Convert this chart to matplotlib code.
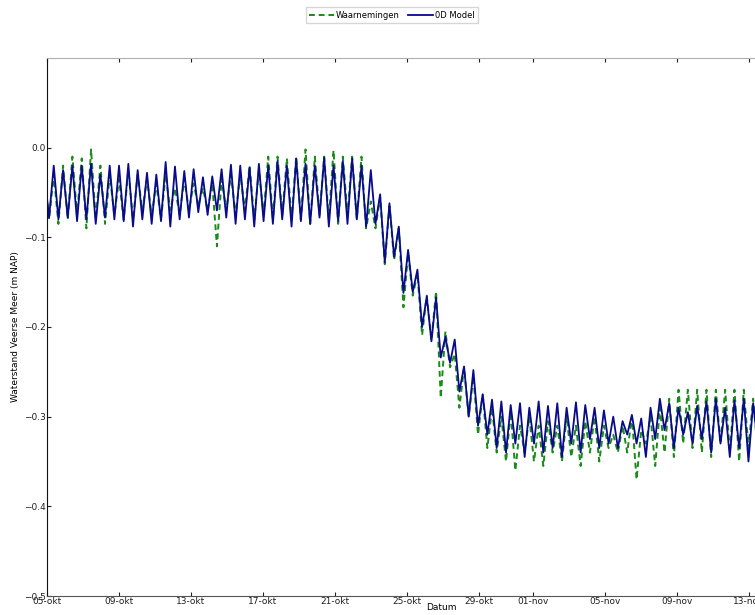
import pandas as pd
import matplotlib.pyplot as plt
import matplotlib.dates as mdates
from matplotlib.ticker import FuncFormatter

# hoog- en laagwater per getij (afwisselend)
start_tijd = '2013-10-04 20:34'
stap = '373min'

model_hoog = [-0.030, -0.020, -0.025, -0.020, -0.020, -0.018, -0.030, -0.020, -0.020, -0.018, -0.025,
              -0.028, -0.030, -0.016, -0.021, -0.026, -0.024, -0.033, -0.032, -0.024, -0.019,
              -0.020, -0.022, -0.018, -0.020, -0.015, -0.020, -0.012, -0.018, -0.020, -0.011,
              -0.020, -0.015, -0.012, -0.020, -0.025, -0.052, -0.062, -0.088, -0.114, -0.136,
              -0.166, -0.167, -0.211, -0.214, -0.244, -0.248, -0.275, -0.281, -0.283, -0.287,
              -0.285, -0.290, -0.283, -0.288, -0.285, -0.290, -0.284, -0.287, -0.290, -0.293,
              -0.300, -0.305, -0.298, -0.302, -0.290, -0.280, -0.285, -0.290, -0.295, -0.288,
              -0.283, -0.280, -0.290, -0.282, -0.280, -0.285, -0.283]
model_laag = [-0.078, -0.080, -0.078, -0.082, -0.080, -0.085, -0.078, -0.080, -0.082, -0.088, -0.080,
              -0.085, -0.082, -0.088, -0.080, -0.078, -0.072, -0.075, -0.070, -0.078, -0.085,
              -0.080, -0.088, -0.082, -0.085, -0.080, -0.088, -0.082, -0.085, -0.078, -0.088,
              -0.082, -0.085, -0.080, -0.088, -0.085, -0.128, -0.122, -0.162, -0.161, -0.200,
              -0.216, -0.234, -0.240, -0.272, -0.300, -0.310, -0.320, -0.335, -0.340, -0.330,
              -0.345, -0.330, -0.340, -0.335, -0.345, -0.330, -0.340, -0.325, -0.335, -0.330,
              -0.335, -0.320, -0.330, -0.345, -0.325, -0.315, -0.335, -0.320, -0.330, -0.325,
              -0.340, -0.330, -0.345, -0.335, -0.350, -0.330, -0.345]

waarn_hoog = [-0.030, -0.030, -0.020, -0.010, -0.012, -0.002, -0.020, -0.030, -0.035, -0.025, -0.030,
              -0.035, -0.040, -0.030, -0.045, -0.035, -0.040, -0.045, -0.040, -0.035, -0.030,
              -0.030, -0.020, -0.025, -0.010, -0.010, -0.012, -0.010, -0.002, -0.010, -0.010,
              -0.003, -0.010, -0.010, -0.010, -0.060, -0.055, -0.065, -0.090, -0.118, -0.140,
              -0.165, -0.160, -0.205, -0.230, -0.245, -0.255, -0.275, -0.290, -0.300, -0.295,
              -0.310, -0.300, -0.310, -0.305, -0.310, -0.300, -0.310, -0.305, -0.300, -0.310,
              -0.320, -0.310, -0.300, -0.315, -0.300, -0.290, -0.280, -0.270, -0.270, -0.270,
              -0.270, -0.270, -0.270, -0.270, -0.270, -0.280, -0.270]
waarn_laag = [-0.080, -0.085, -0.080, -0.075, -0.090, -0.080, -0.085, -0.075, -0.080, -0.080, -0.070,
              -0.075, -0.080, -0.070, -0.075, -0.070, -0.065, -0.070, -0.110, -0.070, -0.075,
              -0.070, -0.080, -0.075, -0.080, -0.075, -0.080, -0.080, -0.085, -0.075, -0.080,
              -0.085, -0.075, -0.080, -0.090, -0.090, -0.130, -0.125, -0.178, -0.165, -0.209,
              -0.215, -0.279, -0.245, -0.290, -0.300, -0.320, -0.335, -0.340, -0.350, -0.360,
              -0.340, -0.350, -0.355, -0.340, -0.350, -0.345, -0.355, -0.340, -0.350, -0.335,
              -0.340, -0.340, -0.370, -0.330, -0.355, -0.340, -0.345, -0.330, -0.335, -0.340,
              -0.345, -0.330, -0.340, -0.350, -0.335, -0.340, -0.345]

maanden = {10: 'okt', 11: 'nov'}


def afwisselend(hoog, laag):
    waarden = []
    for h, l in zip(hoog, laag):
        waarden += [h, l]
    return waarden


model = afwisselend(model_hoog, model_laag)
waarn = afwisselend(waarn_hoog, waarn_laag)
tijd = pd.date_range(start_tijd, periods=len(model), freq=stap)

fig = plt.figure(figsize=(7.55, 6.15), dpi=100)
ax = fig.add_axes([47 / 755, 19 / 615, 788 / 755, 538 / 615])

l1, = ax.plot(tijd, waarn, color='#1a8a1a', linestyle='--', linewidth=1.4,
              dashes=(3, 2), label='Waarnemingen')
l2, = ax.plot(tijd, model, color='#0a0a8c', linestyle='-', linewidth=1.3, label='0D Model')

ax.set_xlim(pd.Timestamp('2013-10-05'), pd.Timestamp('2013-10-05') + pd.Timedelta(days=788 / 18))
ax.set_ylim(-0.5, 0.1)
ax.set_yticks([-0.5, -0.4, -0.3, -0.2, -0.1, 0.0])

ax.xaxis.set_major_locator(mdates.DayLocator(bymonthday=[1, 5, 9, 13, 17, 21, 25, 29]))
ax.xaxis.set_major_formatter(FuncFormatter(
    lambda x, pos: '%02d-%s' % (mdates.num2date(x).day, maanden[mdates.num2date(x).month])))

ax.tick_params(direction='in', top=True, right=False, labelsize=6.5, length=3, pad=1, colors='#222222')
ax.spines['top'].set_color('#b0b0b0')
ax.spines['bottom'].set_color('#555555')
ax.spines['left'].set_color('#111111')

ax.set_xlabel('Datum', fontsize=6.5, labelpad=0)
ax.set_ylabel('Waterstand Veerse Meer (m NAP)', fontsize=6.5)
ax.yaxis.set_label_coords(-0.034, 0.5)
ax.xaxis.set_label_coords(0.5, -0.013)

fig.legend(handles=[l1, l2], loc='center', bbox_to_anchor=(392 / 755, 1 - 15 / 615),
           ncol=2, fontsize=6, handlelength=3, handletextpad=0.2, columnspacing=1.0,
           frameon=True, edgecolor='#cccccc', fancybox=False, borderpad=0.4)

fig.savefig('out.png', dpi=100)
